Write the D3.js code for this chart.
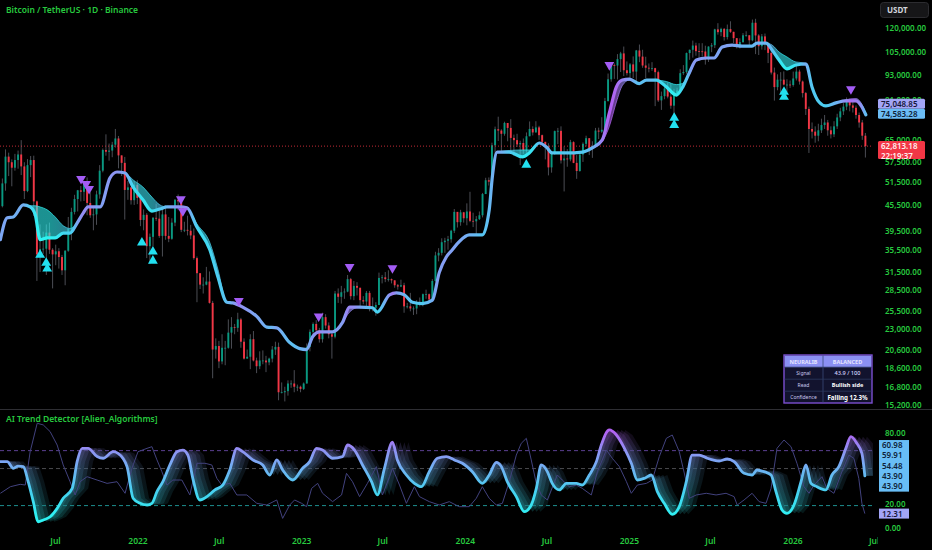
<!doctype html>
<html>
<head>
<meta charset="utf-8">
<script src="https://cdnjs.cloudflare.com/ajax/libs/d3/7.8.5/d3.min.js"></script>
<style>
  body { margin: 0; background: #000; }
  svg { display: block; font-family: "Noto Sans", sans-serif; }
</style>
</head>
<body>
<svg id="chart" width="932" height="550"></svg>
<script>
// ---- weekly BTC/USDT candles (thousands USDT), first week starts 2021-03-01 ----
var firstOpen = 45.2;
var weekClose = [51.2,59.3,57.5,55.8,58.2,60.0,56.2,49.1,56.6,58.2,46.4,34.7,35.7,35.8,39.1,35.6,34.7,35.3,34.2,31.8,35.4,39.9,43.8,47.0,49.3,48.9,51.8,46.0,43.0,43.2,48.2,54.9,61.5,60.9,61.3,63.3,65.5,59.7,57.3,49.4,50.1,46.7,50.8,47.3,
  41.9,43.1,36.3,38.2,42.4,42.2,38.4,43.2,38.4,37.8,41.3,46.8,46.4,39.7,39.7,39.5,38.5,34.0,31.3,29.4,29.4,29.9,26.6,20.6,21.0,19.3,20.8,20.8,22.6,23.3,23.2,24.3,21.5,19.6,19.8,21.8,19.4,18.8,19.4,19.4,19.2,19.6,20.6,20.9,16.3,16.3,16.4,17.1,17.1,16.8,16.8,16.6,
  17.1,20.9,22.7,23.7,22.9,21.8,24.6,23.5,22.4,22.1,28.0,27.5,28.2,28.3,30.3,27.6,29.2,28.9,27.0,26.8,28.1,25.9,25.9,26.3,30.5,30.6,30.3,30.3,30.1,29.3,29.1,29.3,26.1,26.1,25.8,25.8,26.5,26.3,27.9,27.9,27.1,30.0,34.5,35.0,37.1,37.4,37.7,39.5,43.8,41.4,43.7,42.3,
  43.9,41.7,41.6,42.1,43.0,48.3,52.1,51.7,63.1,68.9,68.4,67.2,71.3,69.4,65.7,64.9,63.4,63.9,61.5,66.3,69.0,67.7,69.6,66.7,64.3,62.7,55.9,60.8,68.2,68.3,58.1,58.7,58.4,64.2,57.3,54.8,60.0,63.6,65.6,62.1,62.9,68.4,68.0,68.7,80.4,90.6,97.9,97.7,101.2,104.4,95.2,93.7,
  98.3,94.5,106.1,102.6,97.7,96.5,96.1,96.3,94.2,80.7,82.6,86.1,82.4,78.4,83.7,85.2,93.7,94.3,104.6,106.5,109.0,105.7,105.6,105.5,101.0,108.4,109.2,119.1,117.3,119.4,114.2,119.3,117.5,113.5,108.2,111.1,115.3,115.3,112.2,123.5,115.2,108.6,114.6,110.5,104.7,94.0,86.8,90.4,90.4,88.0,88.0,87.8,
  91.0,94.5,89.5,84.0,77.0,69.0,68.0,66.5,68.5,70.5,71.5,68.5,67.0,70.0,73.5,76.0,78.0,80.0,78.5,77.5,74.5,71.5,66.5,62.81318];
var weekHigh = [52.6,61.7,60.6,58.4,60.2,61.3,64.9,57.5,58.5,59.5,59.6,46.6,40.9,39.3,40.9,41.3,35.9,36.6,35.9,34.6,35.5,42.6,44.8,48.1,49.4,50.5,51.9,52.9,48.8,45.0,49.2,56.6,62.0,67.0,63.7,64.3,69.0,66.4,59.3,59.2,51.9,50.0,51.9,52.1,
  47.5,44.4,43.5,38.9,42.6,45.8,44.8,45.0,45.4,42.6,42.3,47.0,48.2,47.4,41.5,42.9,40.8,40.0,34.3,31.0,30.6,32.4,31.6,26.9,21.9,21.6,22.4,21.6,24.3,24.6,23.7,25.2,24.5,21.9,20.6,22.4,22.8,19.7,20.4,20.5,19.9,19.7,21.0,21.5,21.4,17.2,16.8,17.4,17.4,18.4,17.0,16.9,
  17.2,21.3,23.0,23.9,24.2,23.2,25.2,25.0,23.9,22.6,28.4,28.8,29.2,28.8,31.0,30.5,30.0,29.8,28.8,27.6,28.4,28.4,27.4,26.7,31.4,31.0,31.5,31.8,30.4,29.9,29.5,30.2,29.7,26.6,28.1,26.1,27.0,27.4,28.0,28.6,28.0,30.3,35.2,35.9,37.9,38.0,38.4,39.7,44.5,43.4,44.3,43.8,
  45.9,48.9,43.6,42.8,43.9,48.6,52.8,52.9,64.0,69.9,73.8,68.9,71.8,71.3,72.8,66.9,67.2,64.7,65.5,67.7,71.9,70.0,72.0,70.2,66.9,63.9,63.8,61.0,68.4,69.4,70.0,62.7,61.8,65.0,64.5,59.8,60.7,64.1,66.5,65.5,64.5,69.4,69.5,73.6,81.8,93.5,99.6,98.8,104.0,105.3,108.4,99.9,
  99.0,102.7,106.4,109.6,106.5,102.5,98.8,99.5,96.5,95.0,84.7,87.5,88.8,88.5,86.0,86.5,95.7,97.9,104.9,106.6,112.0,110.7,110.4,110.4,108.9,108.5,110.5,119.5,123.2,120.2,120.0,122.3,124.5,117.6,113.6,113.4,116.7,117.9,115.4,125.7,126.2,116.0,116.1,116.4,111.0,107.5,96.6,93.1,94.2,94.6,90.6,90.0,
  94.5,97.5,95.5,90.0,84.5,78.0,71.5,70.0,71.0,73.0,74.5,72.5,70.0,72.0,75.0,77.5,79.5,82.0,81.5,80.0,78.5,75.5,72.5,67.5];
var weekLow = [44.9,49.2,53.3,50.4,54.9,55.5,53.6,47.0,48.8,53.0,42.8,30.0,31.5,34.8,31.0,34.8,28.8,32.7,32.1,31.0,29.3,35.2,37.5,43.2,43.9,46.4,46.5,43.0,42.4,39.6,40.8,47.1,54.4,59.6,58.0,59.1,62.3,55.6,53.3,42.0,46.8,45.6,45.5,45.7,
  40.5,39.6,34.0,32.9,36.3,41.7,38.0,34.3,37.6,37.1,37.6,40.5,44.2,39.2,39.2,38.5,37.7,33.7,26.7,28.7,28.0,29.3,26.5,17.6,19.6,18.6,19.0,18.9,20.7,20.7,22.4,22.7,20.8,19.5,19.6,18.5,19.3,18.1,18.5,19.0,18.2,18.9,19.2,20.0,15.6,16.2,15.5,16.0,16.7,16.3,16.4,16.3,
  16.5,17.1,20.4,22.3,22.6,21.4,21.4,23.1,21.9,19.6,21.9,26.6,26.5,27.2,28.2,27.1,27.0,27.7,25.8,26.4,26.1,25.4,25.4,24.8,26.3,29.6,29.8,29.9,29.6,28.9,28.6,29.0,25.2,25.8,25.4,24.9,25.0,26.1,26.1,27.2,26.6,26.7,29.9,33.4,34.5,35.0,35.6,37.0,39.0,40.2,40.6,41.3,
  40.7,41.4,40.3,38.6,41.9,42.5,48.3,50.6,50.9,59.0,64.6,60.8,66.5,64.5,60.7,59.6,62.5,56.6,60.2,60.6,66.4,66.6,68.5,65.0,63.4,58.4,53.5,54.3,59.9,63.5,57.1,49.0,56.1,57.8,57.2,52.5,54.6,57.6,62.7,59.8,58.9,62.4,65.3,67.5,66.8,80.2,89.4,90.8,90.5,94.3,92.2,92.5,
  91.2,91.2,89.3,99.5,96.5,91.2,94.1,94.9,78.2,80.0,76.6,81.2,81.6,77.1,74.5,83.1,85.1,92.8,93.4,100.8,102.0,103.1,100.4,102.7,98.2,99.6,105.1,107.5,115.7,114.7,112.0,112.7,116.8,110.5,107.3,107.3,110.6,114.5,108.6,111.6,104.0,103.5,106.6,106.3,99.0,93.0,80.6,85.3,83.8,87.6,84.4,86.4,
  87.0,90.0,88.0,82.0,74.5,60.5,65.5,64.0,64.5,67.5,69.0,66.5,65.5,66.0,69.0,72.0,74.5,76.5,76.0,75.5,73.0,69.5,65.0,59.0];

// ---- trend lines (decimal year, thousands USDT) ----
var trendT = [2021.159,2021.201,2021.238,2021.299,2021.341,2021.372,2021.402,2021.445,2021.494,2021.543,2021.585,2021.628,2021.665,2021.695,2021.768,2021.829,2021.872,2021.921,2021.970,2022.030,
  2022.085,2022.134,2022.177,2022.256,2022.299,2022.360,2022.439,2022.488,2022.543,2022.579,2022.640,2022.726,2022.787,2022.848,2022.927,2022.988,2023.030,2023.067,2023.110,2023.189,
  2023.250,2023.293,2023.354,2023.433,2023.463,2023.537,2023.579,2023.628,2023.677,2023.738,2023.799,2023.841,2023.884,2023.921,2023.963,2024.024,2024.104,2024.146,2024.165,2024.195,
  2024.268,2024.348,2024.390,2024.451,2024.494,2024.530,2024.616,2024.713,2024.774,2024.835,2024.878,2024.921,2024.957,2025.000,2025.061,2025.104,2025.165,2025.226,2025.287,2025.323,
  2025.366,2025.409,2025.470,2025.518,2025.567,2025.628,2025.689,2025.750,2025.780,2025.835,2025.872,2025.915,2025.963,2026.018,2026.079,2026.116,2026.159,2026.201,2026.262,2026.323,
  2026.384,2026.421,2026.445];
var trendFast = [37.6,42.4,42.6,45.5,45.0,43.1,37.6,38.0,38.0,39.0,39.0,41.2,43.5,45.0,45.0,52.8,54.5,54.2,50.2,46.8,
  44.0,44.5,45.0,45.0,44.8,40.3,35.6,30.7,26.7,26.6,26.0,24.7,23.3,23.2,21.4,20.7,20.6,22.1,22.7,22.7,
  23.9,26.0,26.0,25.9,25.3,27.8,28.1,27.8,26.7,26.5,27.0,31.4,34.2,35.6,37.2,38.6,38.6,44.3,53.1,60.8,
  60.8,59.2,60.5,63.9,62.5,60.5,60.5,60.8,62.2,65.0,75.3,86.9,90.2,90.7,88.5,90.2,90.2,86.9,83.1,86.4,
  93.8,100.7,101.8,101.8,108.1,109.3,108.7,108.7,110.5,110.5,106.4,100.7,95.9,98.0,98.5,86.9,80.0,78.3,79.6,80.5,
  80.5,77.9,74.58328];
var trendSlow = [37.6,42.4,42.6,45.5,45.3,45.3,45.0,44.3,42.6,40.6,40.0,41.2,43.5,45.0,45.0,52.8,54.5,54.2,52.2,50.2,
  47.5,45.5,45.0,45.0,44.8,41.0,37.0,32.0,26.7,26.6,26.0,24.7,23.3,23.2,21.4,20.7,20.6,22.1,22.7,22.7,
  23.9,25.3,26.0,25.9,25.3,27.8,28.1,27.8,26.7,26.5,27.0,31.4,34.2,35.6,37.2,38.6,38.6,44.3,53.1,60.8,
  61.3,61.5,61.5,63.9,62.5,60.5,60.5,60.8,62.2,64.5,70.0,80.0,87.5,90.2,88.5,90.2,90.2,89.5,88.0,88.5,
  93.0,100.7,101.8,101.8,108.1,109.3,108.7,108.7,110.5,110.5,109.3,105.2,102.4,99.6,99.0,86.9,80.0,78.3,79.6,81.0,
  81.5,79.0,75.04885];

// ---- signal triangles (decimal year, thousands USDT) ----
var sigDownT = [2021.652,2021.683,2021.701,2022.262,2022.274,2022.616,2023.104,2023.293,2023.555,2024.878,2026.354];
var sigDownP = [52.5,51.1,49.7,47.0,44.0,26.9,24.7,32.4,32.2,98.0,85.9];
var sigUpT = [2021.402,2021.439,2021.445,2022.024,2022.091,2022.091,2024.372,2025.274,2025.274,2025.945,2025.945];
var sigUpP = [34.6,33.1,32.1,37.0,35.2,33.5,56.7,73.3,70.5,84.5,82.2];

// ---- oscillator ----
var oscT = [2021.159,2021.201,2021.238,2021.268,2021.299,2021.329,2021.360,2021.390,2021.421,2021.463,2021.506,2021.543,2021.598,2021.628,2021.659,2021.695,2021.750,2021.787,2021.848,2021.878,
  2021.933,2021.970,2022.012,2022.055,2022.085,2022.116,2022.152,2022.195,2022.238,2022.274,2022.305,2022.335,2022.378,2022.421,2022.470,2022.518,2022.561,2022.604,2022.640,2022.701,
  2022.762,2022.805,2022.848,2022.884,2022.945,2023.006,2023.049,2023.091,2023.128,2023.189,2023.250,2023.280,2023.323,2023.372,2023.427,2023.463,2023.506,2023.555,2023.585,2023.640,
  2023.689,2023.732,2023.780,2023.829,2023.884,2023.933,2023.982,2024.043,2024.104,2024.146,2024.189,2024.220,2024.256,2024.311,2024.360,2024.402,2024.433,2024.463,2024.500,2024.530,
  2024.573,2024.616,2024.677,2024.713,2024.756,2024.799,2024.829,2024.878,2024.921,2024.970,2025.012,2025.049,2025.091,2025.134,2025.171,2025.213,2025.262,2025.305,2025.348,2025.384,
  2025.427,2025.476,2025.549,2025.598,2025.640,2025.701,2025.750,2025.780,2025.823,2025.866,2025.896,2025.933,2025.963,2026.006,2026.049,2026.079,2026.110,2026.146,2026.201,2026.238,
  2026.280,2026.323,2026.354,2026.390,2026.421,2026.439];
var oscMain = [55.8,55.8,50.2,52.1,51.6,39,22.3,5.5,6.9,9.7,16.7,25.1,33.4,55.8,66.9,66.9,60,58.6,64.1,62.7,
  51.6,25.1,20.9,19.5,20.9,30.7,39,53,64.1,65.5,61.3,41.8,23.7,26.5,32.1,36.2,48.8,66.9,64.1,57.2,
  53,44.6,57.2,48.8,40.4,50.2,55.8,66.9,65.5,58.6,60,69.7,65.5,53,39,27.9,50.2,72,57.2,44.6,
  37.6,34.8,47.4,58.6,60,57.2,54.4,47.4,37.6,44.6,55.2,51.6,39,26.5,13.9,19.5,33.4,53,47.4,37.6,
  32.1,37.6,37.6,36.2,44.6,55.8,69.7,82.3,78.1,66.9,54.4,40.4,41.8,44.6,30.7,20.9,11.7,18.1,39,61.3,
  61.3,58.6,56.3,58,55.8,46,44.6,48.8,47.4,44.6,30.7,15.3,12.5,19.5,39,53,37.6,34.8,32.1,44.6,
  51.6,66.9,76.7,71.1,62.7,43.9];
var thinT = [2021.159,2021.220,2021.280,2021.311,2021.341,2021.384,2021.421,2021.463,2021.506,2021.543,2021.585,2021.616,2021.646,2021.689,2021.750,2021.811,2021.872,2021.921,2021.963,2022.000,
  2022.055,2022.085,2022.116,2022.146,2022.177,2022.213,2022.268,2022.317,2022.360,2022.409,2022.451,2022.482,2022.512,2022.561,2022.604,2022.665,2022.726,2022.787,2022.848,2022.884,
  2022.927,2022.957,2023.000,2023.030,2023.061,2023.098,2023.128,2023.189,2023.244,2023.274,2023.311,2023.354,2023.402,2023.457,2023.494,2023.537,2023.555,2023.598,2023.640,2023.689,
  2023.720,2023.780,2023.841,2023.902,2023.963,2024.024,2024.067,2024.104,2024.146,2024.189,2024.226,2024.268,2024.311,2024.341,2024.372,2024.402,2024.433,2024.463,2024.500,2024.561,
  2024.591,2024.634,2024.677,2024.713,2024.768,2024.805,2024.860,2024.896,2024.939,2024.982,2025.012,2025.049,2025.104,2025.140,2025.183,2025.226,2025.262,2025.305,2025.348,2025.366,
  2025.409,2025.470,2025.530,2025.591,2025.640,2025.659,2025.701,2025.750,2025.793,2025.835,2025.866,2025.902,2025.945,2025.988,2026.024,2026.067,2026.098,2026.128,2026.177,2026.207,
  2026.250,2026.299,2026.341,2026.372,2026.402,2026.421,2026.439];
var thinV = [29.3,34.8,36.8,36.2,64.1,87.9,86.5,80.9,69.7,53,39,27.9,39,43.2,40.4,37.6,39,29.3,50.2,64.1,
  66.9,68.3,57.2,47.4,36.2,40.4,40.4,27.9,54.4,54.4,53,41.8,36.2,37.6,27.9,27.9,20.9,19.5,23.7,8.3,
  19.5,23.7,20.9,18.1,33.4,37.6,29.3,22.3,27.9,46,39,26.5,37.6,51.6,27.9,43.2,50.2,36.2,20.9,34.8,
  26.5,22.3,19.5,22.3,18.1,18.1,25.1,34.8,25.1,19.5,20.9,39,61.3,71.1,75.3,57.2,37.6,27.9,23.7,44.6,
  40.4,34.8,36.2,33.4,27.9,47.4,65.5,58.6,51.6,39,29.3,36.2,37.6,40.4,60,75.3,78.1,64.1,39,25.1,
  27.9,29.3,27.9,29.3,26.5,19.5,23.7,29.3,22.3,20.9,33.4,66.9,73.9,68.3,54.4,34.8,29.3,36.2,43.2,33.4,
  29.3,47.4,61.3,58.6,41.8,20.9,12.31];
var oscExtraLabels = [60.98, 59.91, 54.48, 43.90, 43.90];
var oscLevels = [65, 50, 19];

// ---- axes ----
var priceTicks = [120000,105000,93000,81000,65000,57500,51500,45500,39500,35500,31500,28500,25500,23000,20600,18600,16800,15200];
var oscTicks = [80, 20, 0];
var dateTicks = ["2021-07-01","2022-01-01","2022-07-01","2023-01-01","2023-07-01","2024-01-01","2024-07-01","2025-01-01","2025-07-01","2026-01-01","2026-07-01"];

// ---- table ----
var tableHead = ["NEURALIB", "BALANCED"];
var tableRows = [["Signal", oscMain[oscMain.length-1].toFixed(1) + " / 100"], ["Read", "Bullish side"], ["Confidence", "Falling  12.3%"]];

var GREEN = "#27c93f";
var W = 932, PW = 873;
var DAY = 864e5;
var svg = d3.select("#chart");
var defs = svg.append("defs");

function yrDate(v) {
  var Y = Math.floor(v), a = Date.UTC(Y, 0, 1), b = Date.UTC(Y + 1, 0, 1);
  return new Date(a + (v - Y) * (b - a));
}

var x = d3.scaleUtc().domain([new Date(Date.UTC(2022,0,1)), new Date(Date.UTC(2026,0,1))]).range([138, 793]);
var y = d3.scaleLog().domain([15.2, 120]).range([405, 28]);
var yo = d3.scaleLinear().domain([0, 80]).range([528.3, 432.7]);
var oscColor = d3.scaleLinear().domain([10, 30, 50, 65, 82])
  .range(["#2ef2f2", "#45d2f0", "#70b2f3", "#8f92f3", "#b45ef2"]).clamp(true);

defs.append("clipPath").attr("id", "mainClip").append("rect").attr("width", PW).attr("height", 408);
defs.append("clipPath").attr("id", "oscClip").append("rect").attr("y", 410).attr("width", PW).attr("height", 125);
defs.append("clipPath").attr("id", "dateClip").append("rect").attr("y", 530).attr("width", 878).attr("height", 20);

// horizontal gradient for the trend line, coloured by oscillator value
var tg = defs.append("linearGradient").attr("id", "trendGrad")
  .attr("gradientUnits", "userSpaceOnUse").attr("x1", 0).attr("x2", PW).attr("y1", 0).attr("y2", 0);
oscT.forEach(function(t, i) {
  tg.append("stop").attr("offset", Math.max(0, Math.min(1, x(yrDate(t)) / PW))).attr("stop-color", oscColor(oscMain[i]));
});
// vertical gradients for the oscillator (stops from top = high value to bottom = low)
function vGrad(id, dark) {
  var g = defs.append("linearGradient").attr("id", id)
    .attr("gradientUnits", "userSpaceOnUse").attr("x1", 0).attr("x2", 0).attr("y1", yo(90)).attr("y2", yo(0));
  d3.range(90, -1, -5).forEach(function(v) {
    var c = d3.color(oscColor(v));
    g.append("stop").attr("offset", (yo(v) - yo(90)) / (yo(0) - yo(90))).attr("stop-color", dark ? c.darker(1.7) : c);
  });
}
vGrad("oscGrad", false);
vGrad("oscGradDark", true);

svg.append("rect").attr("width", W).attr("height", 550).attr("fill", "#000");

// ---- main pane ----
var main = svg.append("g").attr("clip-path", "url(#mainClip)");

var candles = weekClose.map(function(c, i) {
  return { d: new Date(Date.UTC(2021, 2, 1) + i * 7 * DAY + 3.5 * DAY), o: i ? weekClose[i-1] : firstOpen, h: weekHigh[i], l: weekLow[i], c: c };
});
var cg = main.append("g");
cg.selectAll("line").data(candles).enter().append("line")
  .attr("x1", function(d) { return x(d.d); }).attr("x2", function(d) { return x(d.d); })
  .attr("y1", function(d) { return y(Math.max(d.h, d.o, d.c)); })
  .attr("y2", function(d) { return y(Math.min(d.l, d.o, d.c)); })
  .attr("stroke", "#6b6e78").attr("stroke-width", 0.7);
cg.selectAll("rect").data(candles).enter().append("rect")
  .attr("x", function(d) { return x(d.d) - 0.95; }).attr("width", 1.9)
  .attr("y", function(d) { return y(Math.max(d.o, d.c)); })
  .attr("height", function(d) { return Math.max(0.8, y(Math.min(d.o, d.c)) - y(Math.max(d.o, d.c))); })
  .attr("fill", function(d) { return d.c >= d.o ? "#089981" : "#f23645"; });

// last price dotted line
var lastClose = weekClose[weekClose.length - 1];
main.append("line").attr("x1", 0).attr("x2", PW).attr("y1", y(lastClose)).attr("y2", y(lastClose))
  .attr("stroke", "#f23645").attr("stroke-dasharray", "1,2").attr("stroke-width", 1).attr("opacity", 0.8);

var trend = trendT.map(function(t, i) { return { d: yrDate(t), f: trendFast[i], s: trendSlow[i] }; });
main.append("path").datum(trend)
  .attr("d", d3.area().x(function(d) { return x(d.d); }).y0(function(d) { return y(d.s); }).y1(function(d) { return y(d.f); }).curve(d3.curveMonotoneX))
  .attr("fill", "url(#trendGrad)").attr("fill-opacity", 0.6);
main.append("path").datum(trend)
  .attr("d", d3.line().x(function(d) { return x(d.d); }).y(function(d) { return y(d.s); }).curve(d3.curveMonotoneX))
  .attr("fill", "none").attr("stroke", "url(#trendGrad)").attr("stroke-width", 1).attr("opacity", 0.7);
main.append("path").datum(trend)
  .attr("d", d3.line().x(function(d) { return x(d.d); }).y(function(d) { return y(d.f); }).curve(d3.curveMonotoneX))
  .attr("fill", "none").attr("stroke", "url(#trendGrad)").attr("stroke-width", 3.2).attr("stroke-linecap", "round");

var tri = d3.symbol().type(d3.symbolTriangle).size(42);
main.selectAll(".dn").data(sigDownT).enter().append("path").attr("class", "dn")
  .attr("d", tri).attr("fill", "#a35cf5")
  .attr("transform", function(t, i) { return "translate(" + x(yrDate(t)) + "," + y(sigDownP[i]) + ") rotate(180)"; });
main.selectAll(".up").data(sigUpT).enter().append("path").attr("class", "up")
  .attr("d", tri).attr("fill", "#22e0f0")
  .attr("transform", function(t, i) { return "translate(" + x(yrDate(t)) + "," + y(sigUpP[i]) + ")"; });

// price axis
var fmt = d3.format(",.2f");
svg.append("g").selectAll("text").data(priceTicks).enter().append("text")
  .attr("x", 885).attr("y", function(v) { return y(v / 1000) + 3; })
  .attr("fill", GREEN).attr("font-size", 8).attr("font-weight", 600).text(function(v) { return fmt(v); });

// price labels on the right
var lastFast = trendFast[trendFast.length - 1], lastSlow = trendSlow[trendSlow.length - 1];
var fy = y(lastFast) - 1;
function priceTag(cy, h, bg, fg, lines) {
  var g = svg.append("g");
  g.append("rect").attr("x", 878).attr("y", cy - 5).attr("width", 47).attr("height", h).attr("rx", 1.5).attr("fill", bg);
  lines.forEach(function(s, i) {
    g.append("text").attr("x", 881).attr("y", cy + 3 + i * 9.5).attr("fill", fg).attr("font-size", 8).attr("font-weight", 600).text(s);
  });
}
priceTag(fy - 10, 10, "#a3a5f7", "#15163a", [fmt(lastSlow * 1000)]);
priceTag(fy, 10, "#6cbdf6", "#0e2238", [fmt(lastFast * 1000)]);
priceTag(y(lastClose), 18, "#f23645", "#fff0f0", [fmt(lastClose * 1000), "22:19:37"]);

// USDT box
svg.append("rect").attr("x", 880.5).attr("y", 2.5).attr("width", 48).attr("height", 15).attr("rx", 3)
  .attr("fill", "#161618").attr("stroke", "#2c2c30");
svg.append("text").attr("x", 887).attr("y", 13).attr("fill", "#d1d4dc").attr("font-size", 8).attr("font-weight", 700).text("USDT");

svg.append("text").attr("x", 6).attr("y", 13).attr("fill", GREEN).attr("font-size", 8.5).attr("font-weight", 600)
  .text("Bitcoin / TetherUS \u00b7 1D \u00b7 Binance");

// ---- table ----
var tb = svg.append("g");
tb.append("rect").attr("x", 784).attr("y", 355).attr("width", 88).attr("height", 48).attr("fill", "#12132e").attr("stroke", "#7b4fd0").attr("stroke-width", 1.4);
tb.append("rect").attr("x", 784.7).attr("y", 355.7).attr("width", 86.6).attr("height", 11.5).attr("fill", "#8b90f2");
tb.append("line").attr("x1", 823).attr("x2", 823).attr("y1", 355.5).attr("y2", 402.5).attr("stroke", "#3b4a78").attr("stroke-width", 0.8);
[367.2, 379.2, 391.2].forEach(function(ly) {
  tb.append("line").attr("x1", 784.5).attr("x2", 871.5).attr("y1", ly).attr("y2", ly).attr("stroke", "#2c3a60").attr("stroke-width", 0.8);
});
tableHead.forEach(function(s, i) {
  tb.append("text").attr("x", i ? 847.5 : 803.5).attr("y", 363.5).attr("text-anchor", "middle")
    .attr("fill", "#e4e4ff").attr("font-size", 5.5).attr("font-weight", 700).text(s);
});
tableRows.forEach(function(r, i) {
  var ry = 375.3 + i * 12;
  tb.append("text").attr("x", 803.5).attr("y", ry).attr("text-anchor", "middle").attr("fill", "#c9c9ec").attr("font-size", 5).text(r[0]);
  tb.append("text").attr("x", 847.5).attr("y", ry + (i == 2 ? 0.3 : 0)).attr("text-anchor", "middle")
    .attr("fill", i ? "#ffffff" : "#d6d6ff").attr("font-size", i == 2 ? 6.2 : 5.6).attr("font-weight", i ? 700 : 500).text(r[1]);
});

// ---- pane separator ----
svg.append("line").attr("x1", 0).attr("x2", W).attr("y1", 409.5).attr("y2", 409.5).attr("stroke", "#2e2e33").attr("stroke-width", 1);

// ---- oscillator pane ----
var osc = svg.append("g").attr("clip-path", "url(#oscClip)");
var levelColors = ["#5b3f92", "#4a4a4e", "#1d8f8f"];
oscLevels.forEach(function(v, i) {
  osc.append("line").attr("x1", 0).attr("x2", PW).attr("y1", yo(v)).attr("y2", yo(v))
    .attr("stroke", levelColors[i]).attr("stroke-dasharray", "4,3").attr("stroke-width", 1);
});
var mainPts = oscT.map(function(t, i) { return [x(yrDate(t)), yo(oscMain[i])]; });
var fanLine = d3.line().curve(d3.curveLinear);
[4, 8, 12, 16].forEach(function(dx, k) {
  var poly = mainPts.concat(mainPts.slice().reverse().map(function(p) { return [p[0] + dx, p[1]]; }));
  osc.append("path").attr("d", fanLine(poly) + "Z").attr("fill", "url(#oscGradDark)").attr("fill-opacity", 0.4 - k * 0.07);
});
var thinPts = thinT.map(function(t, i) { return [x(yrDate(t)), yo(thinV[i])]; });
osc.append("path").attr("d", d3.line()(thinPts)).attr("fill", "none").attr("stroke", "#42427e").attr("stroke-width", 1);
osc.append("path").attr("d", d3.line().curve(d3.curveMonotoneX)(mainPts)).attr("fill", "none")
  .attr("stroke", "url(#oscGrad)").attr("stroke-width", 2.8).attr("stroke-linecap", "round");

svg.append("text").attr("x", 6).attr("y", 422).attr("fill", GREEN).attr("font-size", 8.5).attr("font-weight", 600)
  .text("AI Trend Detector [Alien_Algorithms]");

svg.append("g").selectAll("text").data(oscTicks).enter().append("text")
  .attr("x", 885).attr("y", function(v) { return yo(v) + 3; })
  .attr("fill", GREEN).attr("font-size", 8).attr("font-weight", 600).text(function(v) { return v.toFixed(2); });

// oscillator value labels
var baseY = yo(oscMain[oscMain.length - 1]);
var og = svg.append("g");
og.append("rect").attr("x", 879).attr("y", baseY - 3 * 10.2 - 5.2).attr("width", 30).attr("height", 5 * 10.2 + 0.6).attr("fill", "#68bdf6");
oscExtraLabels.forEach(function(v, i) {
  og.append("text").attr("x", 882).attr("y", baseY + (i - 3) * 10.2 + 3).attr("fill", "#0e2238").attr("font-size", 8).attr("font-weight", 600).text(v.toFixed(2));
});
var lastThin = thinV[thinV.length - 1];
og.append("rect").attr("x", 879).attr("y", yo(lastThin) - 5).attr("width", 30).attr("height", 10).attr("fill", "#a3a5f7");
og.append("text").attr("x", 882).attr("y", yo(lastThin) + 3).attr("fill", "#15163a").attr("font-size", 8).attr("font-weight", 600).text(lastThin.toFixed(2));

// ---- date axis ----
svg.append("g").attr("clip-path", "url(#dateClip)").selectAll("text").data(dateTicks).enter().append("text")
  .attr("x", function(s) { return x(new Date(s)); }).attr("y", 544).attr("text-anchor", "middle")
  .attr("fill", GREEN).attr("font-size", 8.5).attr("font-weight", 600)
  .text(function(s) { var d = new Date(s); return d.getUTCMonth() === 0 ? d.getUTCFullYear() : "Jul"; });
</script>
</body>
</html>
